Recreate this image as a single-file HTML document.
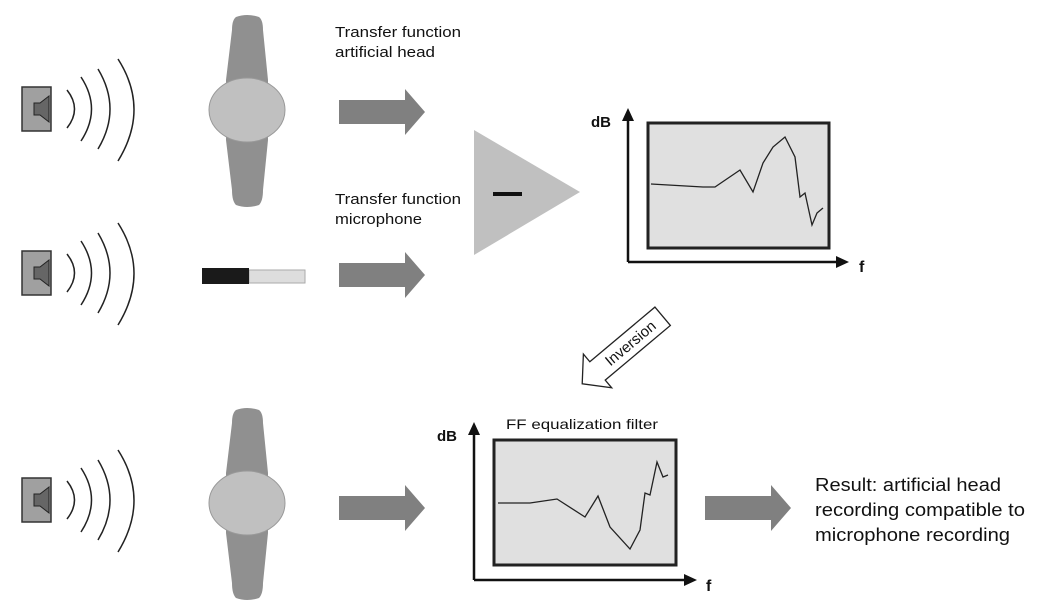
<!DOCTYPE html>
<html><head><meta charset="utf-8"><style>
body{margin:0;background:#fff;}
svg text{font-family:"Liberation Sans",Arial,sans-serif;}
</style></head><body>
<svg width="1040" height="602" viewBox="0 0 1040 602" xmlns="http://www.w3.org/2000/svg">
<defs>
<g id="spk">
  <rect x="22" y="-22" width="29" height="44" fill="#a0a0a0" stroke="#333" stroke-width="1.5"/>
  <path d="M34,-6 L40,-6 L49,-13 L49,13 L40,6 L34,6 Z" fill="#666" stroke="#222" stroke-width="1"/>
  <path d="M67,-19 Q82,0 67,19" fill="none" stroke="#222" stroke-width="1.5"/>
  <path d="M81,-32 Q102,0 81,32" fill="none" stroke="#222" stroke-width="1.5"/>
  <path d="M98,-40 Q122,0 98,40" fill="none" stroke="#222" stroke-width="1.5"/>
  <path d="M118,-50 Q150,0 118,52" fill="none" stroke="#222" stroke-width="1.5"/>
</g>
<g id="head">
  <path d="M236,-93 Q247,-97 259,-93 Q263,-90 263,-80 L268,-30 L268,30 L263,80 Q263,91 259,95 Q247,99 236,95 Q232,91 232,80 L226,30 L226,-30 L232,-80 Q232,-90 236,-93 Z" fill="#909090"/>
  <ellipse cx="247" cy="0" rx="38" ry="32" fill="#c0c0c0" stroke="#999" stroke-width="1"/>
</g>
<g id="arr">
  <path d="M0,-12 L66,-12 L66,-23 L86,0 L66,23 L66,12 L0,12 Z" fill="#808080"/>
</g>
</defs>
<use href="#spk" transform="translate(0,109)"/>
<use href="#spk" transform="translate(0,273)"/>
<use href="#spk" transform="translate(0,500)"/>
<use href="#head" transform="translate(0,110)"/>
<use href="#head" transform="translate(0,503)"/>
<rect x="249" y="270" width="56" height="13" fill="#ddd" stroke="#aaa" stroke-width="1"/>
<rect x="202" y="268" width="47" height="16" fill="#1a1a1a"/>
<use href="#arr" transform="translate(339,112)"/>
<use href="#arr" transform="translate(339,275)"/>
<use href="#arr" transform="translate(339,508)"/>
<use href="#arr" transform="translate(705,508)"/>
<text x="335" y="37" font-size="15" fill="#111" textLength="126" lengthAdjust="spacingAndGlyphs">Transfer function</text>
<text x="335" y="57" font-size="15" fill="#111" textLength="100" lengthAdjust="spacingAndGlyphs">artificial head</text>
<text x="335" y="204" font-size="15" fill="#111" textLength="126" lengthAdjust="spacingAndGlyphs">Transfer function</text>
<text x="335" y="224" font-size="15" fill="#111" textLength="87" lengthAdjust="spacingAndGlyphs">microphone</text>
<polygon points="474,130 580,192 474,255" fill="#c0c0c0"/>
<rect x="493" y="192" width="29" height="4" fill="#111"/>
<!-- graph 1 -->
<rect x="648" y="123" width="181" height="125" fill="#e0e0e0" stroke="#222" stroke-width="3"/>
<path d="M628,262 L628,118 M628,262 L838,262" stroke="#111" stroke-width="2.5" fill="none"/>
<polygon points="622,121 628,108 634,121" fill="#111"/>
<polygon points="836,256 849,262 836,268" fill="#111"/>
<text x="591" y="127" font-size="15" font-weight="bold" fill="#111">dB</text>
<text x="859" y="272" font-size="16" font-weight="bold" fill="#111">f</text>
<polyline points="651,184 703,187 715,187 740,170 753,192 763,163 773,147 785,137 795,157 800,197 805,193 812,225 817,213 823,208" fill="none" stroke="#222" stroke-width="1.3"/>
<!-- inversion arrow -->
<g transform="translate(632,342) rotate(-40)">
  <path d="M-45,-12 L40,-12 L40,12 L-45,12 L-45,22 L-65,0 L-45,-22 Z" fill="#fff" stroke="#222" stroke-width="1.3"/>
  <text x="-2" y="5" font-size="15" text-anchor="middle" fill="#111">Inversion</text>
</g>
<!-- graph 2 -->
<rect x="494" y="440" width="182" height="125" fill="#e0e0e0" stroke="#222" stroke-width="3"/>
<path d="M474,580 L474,432 M474,580 L686,580" stroke="#111" stroke-width="2.5" fill="none"/>
<polygon points="468,435 474,422 480,435" fill="#111"/>
<polygon points="684,574 697,580 684,586" fill="#111"/>
<text x="437" y="441" font-size="15" font-weight="bold" fill="#111">dB</text>
<text x="706" y="591" font-size="16" font-weight="bold" fill="#111">f</text>
<text x="506" y="429" font-size="14" fill="#111" textLength="152" lengthAdjust="spacingAndGlyphs">FF equalization filter</text>
<polyline points="498,503 530,503 557,499 585,517 598,496 610,527 630,549 640,530 645,493 650,495 657,462 663,477 668,475" fill="none" stroke="#222" stroke-width="1.3"/>
<text x="815" y="491" font-size="18" fill="#111" textLength="186" lengthAdjust="spacingAndGlyphs">Result: artificial head</text>
<text x="815" y="516" font-size="18" fill="#111" textLength="210" lengthAdjust="spacingAndGlyphs">recording compatible to</text>
<text x="815" y="541" font-size="18" fill="#111" textLength="195" lengthAdjust="spacingAndGlyphs">microphone recording</text>
</svg>
</body></html>
